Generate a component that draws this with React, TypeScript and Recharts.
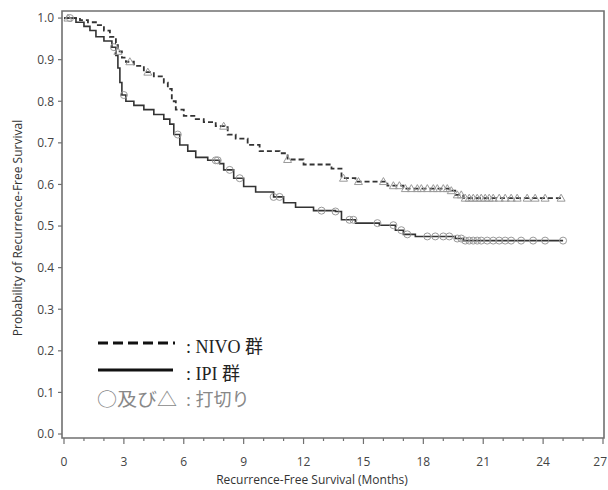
import { ComposedChart, Line, Scatter, XAxis, YAxis, ReferenceArea } from "recharts";

// Kaplan-Meier steps (months, survival)
const nivoTime = [0, 0.8, 1.2, 1.6, 2.0, 2.3, 2.6, 2.7, 2.9, 3.1, 3.5, 4.0, 4.5, 5.0, 5.2, 5.4, 5.6, 6.0, 6.6, 7.0, 7.6, 8.2, 8.6, 9.2, 9.8, 10.8, 11.2, 12.0, 13.4, 13.9, 14.6, 16.2, 17.0, 19.3, 19.6, 20.0, 25.0];
const nivoSurv = [1.0, 0.995, 0.99, 0.983, 0.97, 0.955, 0.94, 0.92, 0.905, 0.895, 0.885, 0.87, 0.86, 0.845, 0.83, 0.8, 0.78, 0.765, 0.757, 0.75, 0.74, 0.72, 0.71, 0.695, 0.68, 0.675, 0.66, 0.648, 0.638, 0.615, 0.607, 0.597, 0.59, 0.585, 0.575, 0.567, 0.567];

const ipiTime = [0, 0.6, 1.0, 1.3, 1.6, 2.0, 2.4, 2.6, 2.7, 2.8, 2.9, 3.1, 3.5, 4.0, 4.5, 5.0, 5.3, 5.5, 5.8, 6.2, 6.6, 7.2, 7.8, 8.0, 8.5, 9.0, 9.6, 10.5, 11.0, 11.6, 12.5, 13.6, 13.9, 14.6, 15.8, 16.6, 17.0, 17.6, 19.6, 20.0, 25.0];
const ipiSurv = [1.0, 0.99, 0.98, 0.97, 0.955, 0.945, 0.93, 0.91, 0.88, 0.845, 0.815, 0.8, 0.79, 0.78, 0.768, 0.757, 0.745, 0.72, 0.695, 0.68, 0.665, 0.658, 0.65, 0.635, 0.615, 0.595, 0.582, 0.57, 0.556, 0.545, 0.537, 0.535, 0.515, 0.507, 0.502, 0.49, 0.48, 0.475, 0.47, 0.465, 0.465];

// censored times
const nivoCensor = [0.2, 2.7, 3.3, 4.2, 8.0, 11.2, 14.0, 14.75, 16.0, 16.5, 16.8, 17.1, 17.4, 17.7, 17.9, 18.2, 18.5, 18.7, 19.0, 19.2, 19.4, 19.7, 19.9, 20.1, 20.3, 20.5, 20.7, 20.9, 21.1, 21.3, 21.5, 21.8, 22.1, 22.4, 22.7, 23.2, 23.6, 24.1, 24.9];
const ipiCensor = [0.3, 2.5, 3.0, 5.7, 7.6, 7.7, 8.3, 8.8, 10.5, 10.8, 12.9, 13.6, 14.3, 14.5, 15.7, 16.5, 16.9, 17.2, 18.2, 18.6, 19.0, 19.3, 19.7, 19.9, 20.1, 20.3, 20.5, 20.7, 20.9, 21.2, 21.5, 21.8, 22.1, 22.4, 22.9, 23.5, 24.1, 25.0];

const xTicks = [0, 1, 2, 3, 4, 5, 6, 7, 8, 9, 10, 11, 12, 13, 14, 15, 16, 17, 18, 19, 20, 21, 22, 23, 24, 25, 26, 27];
const yTicks = [0, 0.1, 0.2, 0.3, 0.4, 0.5, 0.6, 0.7, 0.8, 0.9, 1.0];

const survAt = (times: number[], surv: number[], t: number) => {
  let v = surv[0];
  times.forEach((tt, i) => {
    if (tt <= t) v = surv[i];
  });
  return v;
};

const nivoData = nivoTime.map((t, i) => ({ t, s: nivoSurv[i] }));
const ipiData = ipiTime.map((t, i) => ({ t, s: ipiSurv[i] }));
const nivoMarks = nivoCensor.map((t) => ({ t, s: survAt(nivoTime, nivoSurv, t) }));
const ipiMarks = ipiCensor.map((t) => ({ t, s: survAt(ipiTime, ipiSurv, t) }));

const sans = "'Open Sans', 'DejaVu Sans', sans-serif";
const serif = "'Liberation Serif', 'Noto Sans CJK JP', serif";
const axisGrey = "#707070";

const XTick = (p: any) => {
  const v = p.payload.value;
  const major = v % 3 === 0;
  const last = v === 27;
  return (
    <g>
      <line x1={p.x} y1={p.y} x2={p.x} y2={p.y + (major ? 6 : 3)} stroke={axisGrey} strokeWidth={1.2} />
      {major && (
        <text
          x={last ? 607 : p.x}
          y={p.y + 28}
          textAnchor={last ? "end" : "middle"}
          fontSize={12}
          fontFamily={sans}
          fill="#444"
        >
          {v}
        </text>
      )}
    </g>
  );
};

const YTick = (p: any) => (
  <g>
    <line x1={p.x - 4} y1={p.y} x2={p.x} y2={p.y} stroke={axisGrey} strokeWidth={1.2} />
    <text x={p.x - 8} y={p.y} dy="0.36em" textAnchor="end" fontSize={12} fontFamily={sans} fill="#444">
      {p.payload.value.toFixed(1)}
    </text>
  </g>
);

const Circle = (p: any) => <circle cx={p.cx} cy={p.cy} r={3.5} fill="none" stroke="#9a9a9a" strokeWidth={1} />;
const Tri = (p: any) => (
  <path
    d={`M${p.cx},${p.cy - 4} L${p.cx + 4},${p.cy + 3} L${p.cx - 4},${p.cy + 3} Z`}
    fill="none"
    stroke="#9a9a9a"
    strokeWidth={1}
  />
);

export default function App() {
  return (
    <div style={{ position: "absolute", left: 0, top: 0, width: 608, height: 490, background: "#fff" }}>
      <ComposedChart width={608} height={490} margin={{ top: 11, right: 4, left: 0, bottom: 0 }}>
        <XAxis
          dataKey="t"
          type="number"
          domain={[-0.1, 27.05]}
          allowDataOverflow
          ticks={xTicks}
          interval={0}
          tick={<XTick />}
          tickSize={0}
          tickMargin={0}
          tickLine={false}
          axisLine={false}
          height={52}
        />
        <YAxis
          dataKey="s"
          type="number"
          domain={[-0.0096, 1.017]}
          allowDataOverflow
          ticks={yTicks}
          interval={0}
          tick={<YTick />}
          tickSize={0}
          tickMargin={0}
          tickLine={false}
          axisLine={false}
          width={62}
        />
        <ReferenceArea x1={-0.1} x2={27.05} y1={-0.0096} y2={1.017} fill="none" stroke={axisGrey} strokeWidth={1.6} />
        <Line data={nivoData} dataKey="s" type="stepAfter" stroke="#333" strokeWidth={1.8} strokeDasharray="5 3" dot={false} isAnimationActive={false} />
        <Line data={ipiData} dataKey="s" type="stepAfter" stroke="#333" strokeWidth={1.6} dot={false} isAnimationActive={false} />
        <Scatter data={nivoMarks} dataKey="s" shape={<Tri />} isAnimationActive={false} />
        <Scatter data={ipiMarks} dataKey="s" shape={<Circle />} isAnimationActive={false} />
      </ComposedChart>
      <svg width={608} height={490} style={{ position: "absolute", left: 0, top: 0, pointerEvents: "none" }}>
        <text x={312} y={484} textAnchor="middle" fontSize={12} fontFamily={sans} fill="#333">
          Recurrence-Free Survival (Months)
        </text>
        <text transform="translate(22,228) rotate(-90)" textAnchor="middle" fontSize={12} fontFamily={sans} fill="#333">
          Probability of Recurrence-Free Survival
        </text>
        <line x1={98} y1={343} x2={175} y2={343} stroke="#111" strokeWidth={3} strokeDasharray="10 5" />
        <line x1={98} y1={370} x2={173} y2={370} stroke="#111" strokeWidth={3} />
        <text x={186} y={353} fontSize={18} fontFamily={serif} fill="#222">: NIVO 群</text>
        <text x={186} y={380} fontSize={18} fontFamily={serif} fill="#222">: IPI 群</text>
        <text
          x={97}
          y={406}
          fontSize={18}
          fontFamily="'Noto Sans CJK JP', serif"
          fill="#888"
          textLength={80}
          lengthAdjust="spacingAndGlyphs"
        >
          ○及び△
        </text>
        <text x={186} y={406} fontSize={18} fontFamily={serif} fill="#888">: 打切り</text>
      </svg>
    </div>
  );
}
